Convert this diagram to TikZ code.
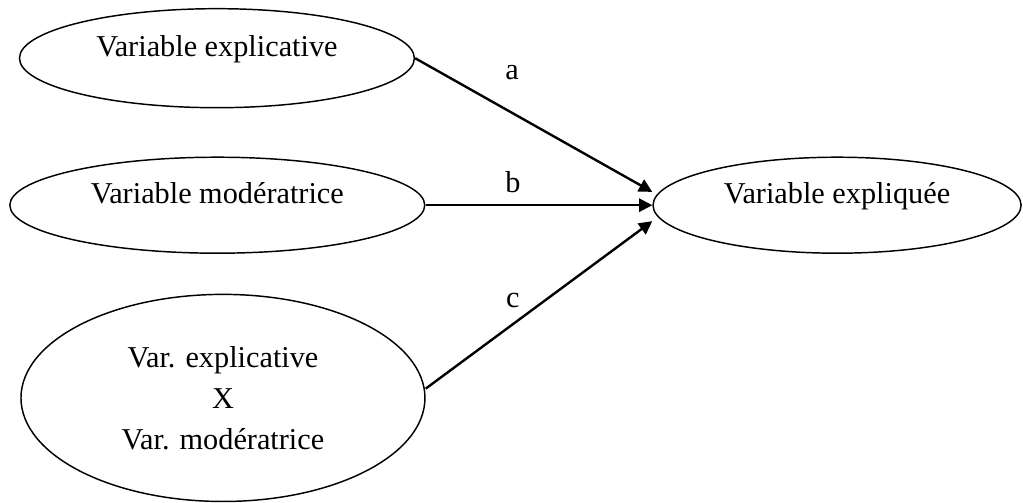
\documentclass[tikz,border=0pt]{standalone}
\usepackage{fontspec}
\setmainfont{Liberation Serif}
\usetikzlibrary{shapes, arrows.meta}

\begin{document}
\begin{tikzpicture}[
    every node/.style={font=\fontsize{22.8}{31}\selectfont},
    var/.style={
        ellipse,
        draw=black,
        line width=1.1pt,
        inner sep=0pt,
        text centered
    },
    var1/.style={
        var,
        text depth=18pt
    },
    arrow/.style={
        line width=1.8pt,
        -{Triangle[length=10pt, width=10pt]}
    }
]
\useasboundingbox (0,0) rectangle (27.07,13.31);

% Left column
\node (expl) [var1, minimum width=10.45cm, minimum height=2.62cm] at (5.74,11.77) {Variable explicative};
\node (mod) [var1, minimum width=10.98cm, minimum height=2.54cm] at (5.75,7.88) {Variable modératrice};
\node (inter) [var, align=center, minimum width=10.69cm, minimum height=5.48cm] at (5.90,2.78) {Var. explicative\\X\\Var. modératrice};

% Right
\node (dep) [var1, minimum width=9.74cm, minimum height=2.54cm] at (22.15,7.88) {Variable expliquée};

% Arrows
\draw [arrow] (expl.east) -- ([yshift=10pt]dep.west);
\draw [arrow] (mod.east) -- (dep.west);
\draw [arrow] ([yshift=7pt]inter.east) -- ([yshift=-12pt]dep.west);

% Labels
\node (la) at (13.55,11.38) {a};
\node (lb) at (13.57,8.49) {b};
\node (lc) at (13.57,5.37) {c};

\end{tikzpicture}
\end{document}
